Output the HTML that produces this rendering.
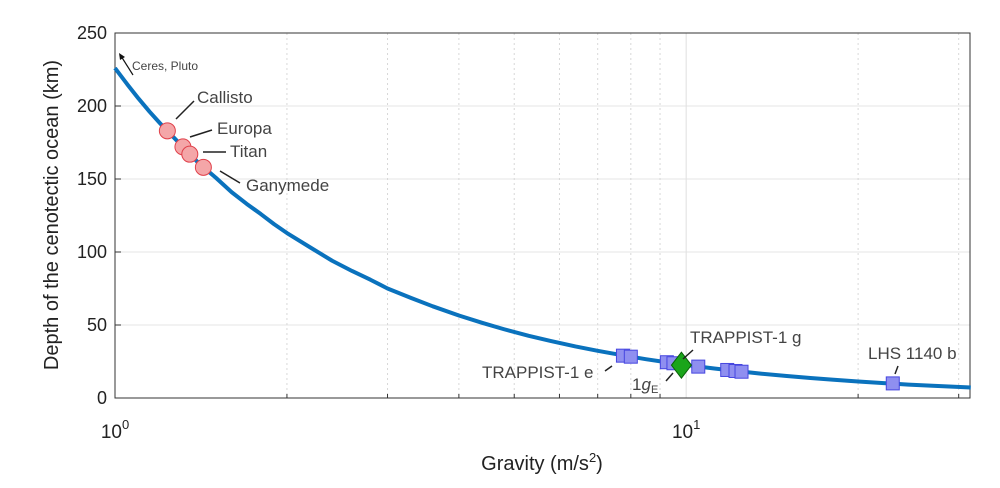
<!DOCTYPE html>
<html><head><meta charset="utf-8"><style>
body{margin:0;background:#fff;font-family:"Liberation Sans",sans-serif}
svg text{font-family:"Liberation Sans",sans-serif}
</style></head><body>
<svg id="chart" width="1000" height="483" viewBox="0 0 1000 483">
<g id="grid"></g>
<g id="axes"></g>
<g id="curve"></g>
<g id="marks"></g>
<g id="ann"></g>
<text x="542" y="470" font-size="20" text-anchor="middle" fill="#222">Gravity (m/s<tspan font-size="13" dy="-8">2</tspan><tspan dy="8">)</tspan></text>
<text transform="translate(58,215) rotate(-90)" font-size="20" text-anchor="middle" fill="#222">Depth of the cenotectic ocean (km)</text>
</svg>
<script>
const yTicks=[0,50,100,150,200,250];
const curveG=[1,1.05,1.1,1.15,1.2,1.3,1.4,1.5,1.6,1.7,1.8,1.9,2,2.2,2.4,2.6,2.8,3,3.3,3.6,4,4.4,4.8,5.3,5.8,6.4,7,7.7,8.5,9.3,10.2,11.2,12.3,13.5,15,16.5,18,20,22,24.5,27,29.5,31.5];
const curveD=[226,215,205,196,188,174,161,151,141,133,126,119,113,103,94,87,81,75,68.5,62.8,56.5,51.4,47.1,42.6,39,35.3,32.3,29.4,26.6,24.3,22.2,20.2,18.4,16.7,15.1,13.7,12.6,11.3,10.3,9.2,8.4,7.7,7.2];
const moonNames=["Callisto","Europa","Titan","Ganymede"];
const moonG=[1.235,1.315,1.352,1.428];
const moonD=[183,172,167,158];
const exoG=[7.75,8.0,9.25,9.5,10.5,11.8,12.2,12.5,23];
const exoD=[29,28.3,24.5,23.8,21.5,19.2,18.5,18,10];
const earthG=[9.81];
const earthD=[22.5];
const L=115,R=970,T=33,B=398,XMAX=31.4;
const X=g=>L+(R-L)*Math.log10(g)/Math.log10(XMAX);
const Y=d=>B-(B-T)*d/250;
const NS="http://www.w3.org/2000/svg";
function mk(p,tag,a){const e=document.createElementNS(NS,tag);for(const k in a)e.setAttribute(k,a[k]);p.appendChild(e);return e;}
const grid=document.getElementById('grid'),axes=document.getElementById('axes');
yTicks.forEach(v=>{const l=mk(grid,'line',{x1:L,x2:R,y1:Y(v),y2:Y(v),stroke:'#e4e4e4','stroke-width':1});


const t=mk(axes,'text',{x:L-8,y:Y(v)+6,'font-size':18,'text-anchor':'end',fill:'#222'});t.textContent=v;


mk(axes,'line',{x1:L,x2:L+6,y1:Y(v),y2:Y(v),stroke:'#333'});});
const minor=[2,3,4,5,6,7,8,9,20,30];
minor.forEach(g=>{const l=mk(grid,'line',{x1:X(g),x2:X(g),y1:T,y2:B,stroke:'#d8d8d8','stroke-dasharray':'2,3'});


mk(axes,'line',{x1:X(g),x2:X(g),y1:B,y2:B-4,stroke:'#333'});});
const gl=mk(grid,'line',{x1:X(10),x2:X(10),y1:T,y2:B,stroke:'#e0e0e0'});


mk(axes,'rect',{x:L,y:T,width:R-L,height:B-T,fill:'none',stroke:'#333','stroke-width':1});
[[1,'10','0'],[10,'10','1']].forEach(([g,b,e])=>{const t=mk(axes,'text',{x:X(g),y:438,'font-size':19,'text-anchor':'middle',fill:'#222'});
t.innerHTML=b+'<tspan font-size="13" dy="-9">'+e+'</tspan>';

});
const cv=mk(document.getElementById('curve'),'polyline',{points:curveG.map((g,i)=>X(g)+','+Y(curveD[i])).join(' '),fill:'none',stroke:'#0a72bd','stroke-width':4,'stroke-linejoin':'round'});


const marks=document.getElementById('marks');
moonG.forEach((g,i)=>{const c=mk(marks,'circle',{cx:X(g),cy:Y(moonD[i]),r:8,fill:'#f4a6a8',stroke:'#e0404a','stroke-width':1});

});
exoG.forEach((g,i)=>{const s=mk(marks,'rect',{x:X(g)-6.5,y:Y(exoD[i])-6.5,width:13,height:13,fill:'#8f8ff0',stroke:'#4646e0','stroke-width':1});

});
earthG.forEach((g,i)=>{const x=X(g),y=Y(earthD[i]);const d=mk(marks,'polygon',{points:`${x},${y-13} ${x+10},${y} ${x},${y+13} ${x-10},${y}`,fill:'#1aa51a',stroke:'#0a600a'});

});
const ann=document.getElementById('ann');
const labels=[["Callisto",197,103,176,119,194,101],["Europa",217,134,190,137,212,130],["Titan",230,157,203,152,226,152],["Ganymede",246,191,220,171,240,183],
["TRAPPIST-1 g",690,343,683,359,693,350],["TRAPPIST-1 e",482,378,605,371,612,366],["LHS 1140 b",868,359,895,374,898,366]];
labels.forEach(([t,x,y,x1,y1,x2,y2])=>{const e=mk(ann,'text',{x:x,y:y,'font-size':17,fill:'#444'});e.textContent=t;


mk(ann,'line',{x1:x1,y1:y1,x2:x2,y2:y2,stroke:'#222','stroke-width':1.5});});
const ge=mk(ann,'text',{x:632,y:390,'font-size':17,fill:'#444'});ge.innerHTML='1<tspan font-style="italic">g</tspan><tspan font-size="11" dy="3">E</tspan>';


mk(ann,'line',{x1:666,y1:381,x2:673,y2:373,stroke:'#222','stroke-width':1.5});
const cp=mk(ann,'text',{x:132,y:70,'font-size':12,fill:'#444'});cp.textContent='Ceres, Pluto';


mk(ann,'line',{x1:133,y1:75,x2:121,y2:56,stroke:'#111','stroke-width':1.2});
mk(ann,'polygon',{points:'119,53 125,57 120,60',fill:'#111'});
</script>
</body></html>
